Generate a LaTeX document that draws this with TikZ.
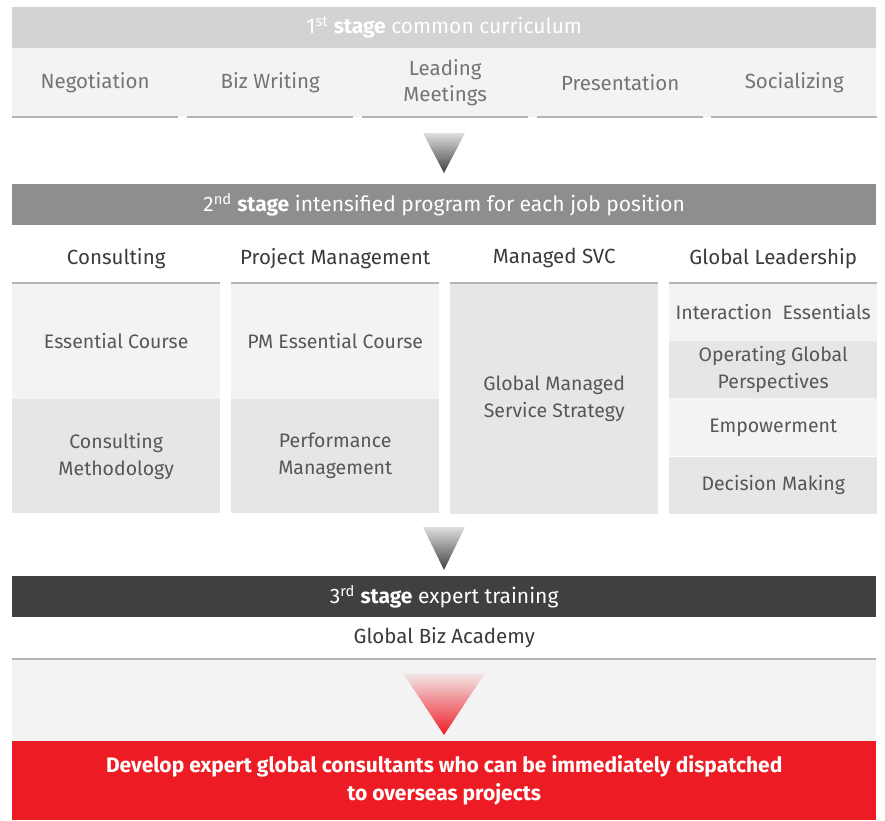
\documentclass[tikz,border=0pt]{standalone}
\usepackage{fontspec}
\setmainfont{Fira Sans}
\usetikzlibrary{positioning}
\definecolor{hdrone}{HTML}{D3D3D3}
\definecolor{hdrtwo}{HTML}{8E8E8E}
\definecolor{hdrthree}{HTML}{404040}
\definecolor{cellA}{HTML}{F3F3F3}
\definecolor{cellB}{HTML}{E6E6E6}
\definecolor{rulegray}{HTML}{B4B4B4}
\definecolor{txtgray}{HTML}{747474}
\definecolor{txtdark}{HTML}{3A3A3A}
\definecolor{goalred}{HTML}{ED1C24}

\begin{document}
\begin{tikzpicture}[x=1pt,y=-1pt,
  stagebar/.style={anchor=north west,minimum width=864,minimum height=41,inner sep=0pt,text=white,font=\fontsize{21}{24}\selectfont},
  item/.style={anchor=north west,inner sep=0pt,align=center,text=txtgray,font=\fontsize{20.5}{26}\selectfont},
  colhead/.style={anchor=north west,inner sep=0pt,minimum width=208,minimum height=50,text=txtdark,font=\fontsize{20.5}{26}\selectfont},
  cell/.style={anchor=north west,inner sep=0pt,minimum width=208,align=center,text=txtdark!85,font=\fontsize{19.5}{27}\selectfont},
  rule/.style={rulegray,line width=2pt}]
  \useasboundingbox (0,0) rectangle (885,820);
  % stage 1
  \node[stagebar,fill=hdrone] (s1) at (12,7) {1\textsuperscript{st} \textbf{stage} common curriculum};
  \fill[cellA] (12,48) rectangle (876,117);
  \foreach \x/\n/\t in {12/neg/Negotiation,187/biz/Biz Writing,362/lead/{Leading\\Meetings},537/pres/Presentation,711/soc/Socializing}{
    \node[item,minimum width=166,minimum height=69] (\n) at (\x,48) {\t};
    \draw[rule] (\n.south west) -- (\n.south east);
  }
  \shade[top color=gray!25,bottom color=black!75] (423,133) -- (465,133) -- (444,173) -- cycle;
  % stage 2
  \node[stagebar,fill=hdrtwo] (s2) at (12,184) {2\textsuperscript{nd} \textbf{stage} intensified program for each job position};
  \foreach \x/\n/\t in {12/cons/Consulting,231/pm/Project Management,450/msvc/Managed SVC,669/glead/Global Leadership}{
    \node[colhead] (\n) at (\x,233) {\t};
  }
  \node[cell,fill=cellA,minimum height=115] (ess) at (cons.south west) {Essential Course};
  \node[cell,fill=cellB,minimum height=114] (cmeth) at (ess.south west) {Consulting\\Methodology};
  \node[cell,fill=cellA,minimum height=115] (pmess) at (pm.south west) {PM Essential Course};
  \node[cell,fill=cellB,minimum height=114] (perf) at (pmess.south west) {Performance\\Management};
  \node[cell,fill=cellB,minimum height=230] (gms) at (msvc.south west) {Global Managed\\Service Strategy};
  \node[cell,fill=cellA,minimum height=57] (ie) at (glead.south west) {Interaction~ Essentials};
  \node[cell,fill=cellB,minimum height=57] (ogp) at (ie.south west) {Operating Global\\Perspectives};
  \node[cell,fill=cellA,minimum height=58] (emp) at (ogp.south west) {Empowerment};
  \node[cell,fill=cellB,minimum height=57] (dm) at (emp.south west) {Decision Making};
  \foreach \n in {cons,pm,msvc,glead}{
    \draw[rule] (\n.south west) -- (\n.south east);
  }
  \shade[top color=gray!25,bottom color=black!75] (423,527) -- (465,527) -- (444,570) -- cycle;
  % stage 3
  \node[stagebar,fill=hdrthree] (s3) at (12,576) {3\textsuperscript{rd} \textbf{stage} expert training};
  \node[colhead,minimum width=864,minimum height=41] (gba) at (s3.south west) {Global Biz Academy};
  \fill[cellA] (12,659) rectangle (876,741);
  \draw[rule] (gba.south west) -- (gba.south east);
  \shade[top color=goalred!5!cellA,middle color=goalred!55,bottom color=goalred] (403,673) -- (485,673) -- (444,735) -- cycle;
  % goal
  \node[anchor=north west,inner sep=0pt,minimum width=864,minimum height=79,fill=goalred,text=white,align=center,font=\bfseries\fontsize{21}{28}\selectfont] (goal) at (12,741) {Develop expert global consultants who can be immediately dispatched\\to overseas projects};
\end{tikzpicture}
\end{document}
